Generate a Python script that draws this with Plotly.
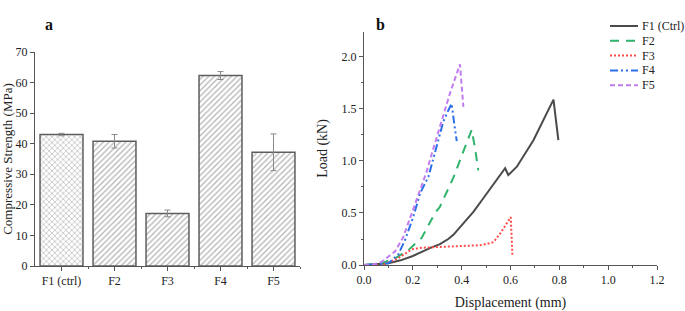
import plotly.graph_objects as go

# ---- Panel a data ----
categories = ["F1 (ctrl)", "F2", "F3", "F4", "F5"]
strength = [43.0, 40.8, 17.2, 62.3, 37.2]
strength_err = [0.4, 2.2, 1.1, 1.3, 6.0]
patterns = ["x", "/", "/", "/", "/"]

# ---- Panel b data ----
f1_x = [0.0, 0.05, 0.10, 0.15, 0.20, 0.277, 0.311, 0.345, 0.366, 0.414, 0.448, 0.482, 0.516, 0.55, 0.578, 0.591, 0.626, 0.694, 0.776, 0.796]
f1_y = [0.0, 0.005, 0.016, 0.045, 0.087, 0.17, 0.20, 0.25, 0.29, 0.42, 0.51, 0.62, 0.73, 0.83, 0.93, 0.865, 0.945, 1.20, 1.59, 1.20]

f2_x = [0.0, 0.05, 0.07, 0.127, 0.18, 0.236, 0.291, 0.311, 0.366, 0.40, 0.441, 0.455, 0.468]
f2_y = [0.0, 0.005, 0.016, 0.065, 0.14, 0.26, 0.50, 0.56, 0.84, 1.05, 1.30, 1.12, 0.91]

f3_x = [0.0, 0.076, 0.14, 0.195, 0.236, 0.311, 0.373, 0.475, 0.516, 0.53, 0.557, 0.58, 0.601, 0.608]
f3_y = [0.0, 0.0, 0.065, 0.15, 0.166, 0.172, 0.18, 0.19, 0.21, 0.22, 0.30, 0.38, 0.46, 0.087]

f4_x = [0.0, 0.05, 0.10, 0.14, 0.168, 0.20, 0.23, 0.264, 0.298, 0.325, 0.346, 0.359, 0.37, 0.38]
f4_y = [0.0, 0.005, 0.016, 0.10, 0.24, 0.45, 0.69, 0.85, 1.14, 1.38, 1.49, 1.55, 1.35, 1.19]

f5_x = [0.0, 0.04, 0.072, 0.127, 0.161, 0.209, 0.236, 0.257, 0.27, 0.311, 0.352, 0.393, 0.407]
f5_y = [0.0, 0.005, 0.03, 0.13, 0.27, 0.59, 0.75, 0.90, 1.01, 1.33, 1.65, 1.93, 1.52]

series_names = ["F1 (Ctrl)", "F2", "F3", "F4", "F5"]
series_x = [f1_x, f2_x, f3_x, f4_x, f5_x]
series_y = [f1_y, f2_y, f3_y, f4_y, f5_y]
series_colors = ["#4a4a4a", "#2fb36b", "#ff4a4a", "#2a6fe8", "#c27cf0"]
series_dash = ["solid", "9px,7px", "2px,2px", "8px,3px,2px,3px,2px,3px", "5px,3px"]

FONT = "Liberation Serif"
W, H = 685, 311

fig = go.Figure()

xpos = list(range(len(categories)))
fig.add_trace(go.Bar(
    x=xpos, y=strength,
    error_y=dict(type="data", array=strength_err, color="#8a8a8a", thickness=1, width=3),
    marker=dict(color="white", line=dict(color="#5e5e5e", width=1.5),
                pattern=dict(shape=patterns, fgcolor="#666666", bgcolor="white", size=4, solidity=0.3)),
    width=0.81, showlegend=False, xaxis="x", yaxis="y",
))

for name, xs, ys, c, d in zip(series_names, series_x, series_y, series_colors, series_dash):
    fig.add_trace(go.Scatter(x=xs, y=ys, mode="lines", name=name,
                             line=dict(color=c, dash=d, width=2), showlegend=False,
                             xaxis="x2", yaxis="y2"))

axis_common = dict(showline=True, linecolor="#555", linewidth=1, ticks="outside", ticklen=4,
                   tickcolor="#555", showgrid=False, zeroline=False, automargin=False,
                   tickfont=dict(family=FONT, size=12, color="#222"))

# manual legend (layout decoration)
shapes = []
annotations = [
    dict(text="<b>a</b>", x=43 / W, y=1 - 14 / H, xref="paper", yref="paper",
         showarrow=False, font=dict(family=FONT, size=16, color="#111")),
    dict(text="<b>b</b>", x=380 / W, y=1 - 14 / H, xref="paper", yref="paper",
         showarrow=False, font=dict(family=FONT, size=16, color="#111")),
]
for i, (name, c, d) in enumerate(zip(series_names, series_colors, series_dash)):
    ypix = 26 + i * 14.8
    yp = 1 - ypix / H
    shapes.append(dict(type="line", xref="paper", yref="paper", x0=610 / W, x1=638 / W, y0=yp, y1=yp,
                       line=dict(color=c, dash=d, width=2)))
    annotations.append(dict(text=name, x=640 / W, y=yp, xref="paper", yref="paper", xanchor="left",
                            yanchor="middle", showarrow=False,
                            font=dict(family=FONT, size=12, color="#222")))

fig.update_layout(
    width=W, height=H,
    margin=dict(l=0, r=0, t=0, b=0),
    paper_bgcolor="white", plot_bgcolor="white",
    font=dict(family=FONT, color="#222"),
    showlegend=False,
    xaxis=dict(domain=[35 / W, 300 / W], range=[-0.5, 4.5], tickmode="array", tickvals=xpos,
               ticktext=categories, anchor="y",
               minor=dict(tickvals=[0.5, 1.5, 2.5, 3.5, 4.5], ticks="outside", ticklen=2, tickcolor="#555"),
               **axis_common),
    yaxis=dict(domain=[1 - 266 / H, 1 - 52 / H], range=[0, 70], dtick=10, anchor="x",
               title=dict(text="Compressive Strength (MPa)", font=dict(family=FONT, size=13), standoff=6),
               **axis_common),
    xaxis2=dict(domain=[364 / W, 657 / W], range=[0, 1.2], dtick=0.2, tickformat=".1f", anchor="y2",
                minor=dict(dtick=0.1, ticks="outside", ticklen=2, tickcolor="#555"),
                title=dict(text="Displacement (mm)", font=dict(family=FONT, size=14), standoff=12),
                **axis_common),
    yaxis2=dict(domain=[1 - 265 / H, 1 - 32 / H], range=[0, 2.24], dtick=0.5, tickformat=".1f", anchor="x2",
                minor=dict(dtick=0.25, ticks="outside", ticklen=2, tickcolor="#555"),
                title=dict(text="Load (kN)", font=dict(family=FONT, size=14), standoff=10),
                **axis_common),
    shapes=shapes,
    annotations=annotations,
)

fig.write_html("out.html", config={"displayModeBar": False},
               post_script="document.body.style.margin='0';document.body.style.overflow='hidden';")
